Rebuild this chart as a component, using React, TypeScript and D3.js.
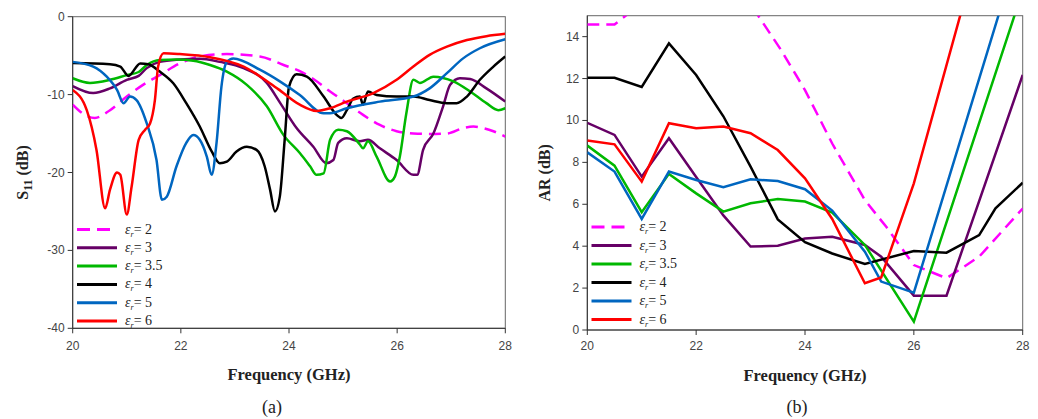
import React from "react";
import * as d3 from "d3";

// ---------- Data: (a) S11 (dB) ----------
const s11X_2 = [20, 20.2, 20.41, 20.69, 21.0, 21.3, 21.61, 21.98, 22.35, 22.85, 23.46, 23.9, 24.2, 24.45, 24.76, 25.07, 25.37, 25.68, 25.99, 26.3, 26.6, 26.92, 27.22, 27.41, 27.59, 27.78, 28];
const s11Y_2 = [-11.3, -12.5, -13.0, -12.0, -10.25, -8.75, -7.5, -6.0, -5.1, -4.8, -5.1, -6.2, -7.0, -8.0, -9.6, -11.1, -12.6, -13.9, -14.7, -15.0, -15.05, -15.0, -14.3, -14.1, -14.3, -14.7, -15.4];

const s11X_3 = [20, 20.38, 20.69, 21.0, 21.22, 21.37, 21.61, 21.98, 22.35, 22.72, 23.16, 23.59, 23.83, 24.14, 24.45, 24.69, 24.82, 24.91, 25.07, 25.31, 25.46, 25.68, 25.99, 26.3, 26.37, 26.48, 26.67, 26.85, 26.98, 27.16, 27.35, 27.65, 28];
const s11Y_3 = [-8.9, -9.8, -9.2, -8.1, -7.6, -6.6, -5.8, -5.5, -5.4, -5.8, -6.6, -8.5, -11.0, -14.3, -16.7, -18.8, -18.4, -16.2, -15.6, -16.0, -15.8, -16.9, -18.4, -20.3, -20.3, -17.1, -15.0, -11.5, -8.75, -7.9, -8.0, -9.2, -10.9];

const s11X_35 = [20, 20.32, 20.69, 21.0, 21.22, 21.37, 21.61, 21.92, 22.23, 22.54, 22.85, 23.22, 23.59, 23.9, 24.2, 24.39, 24.51, 24.64, 24.76, 24.91, 25.07, 25.31, 25.37, 25.46, 25.62, 25.87, 25.96, 26.05, 26.17, 26.3, 26.42, 26.67, 27.04, 27.35, 27.65, 27.87, 28];
const s11Y_35 = [-7.9, -8.5, -8.1, -7.5, -7.1, -6.2, -5.55, -5.5, -5.65, -6.2, -7.05, -8.75, -11.5, -15.2, -17.5, -19.2, -20.3, -20.1, -15.8, -14.5, -14.7, -16.4, -16.9, -16.0, -17.95, -21.15, -20.5, -17.95, -12.4, -8.1, -8.5, -7.7, -8.3, -9.6, -11.1, -12.0, -11.75];

const s11X_4 = [20, 20.69, 20.88, 21.03, 21.25, 21.4, 21.61, 21.86, 22.1, 22.35, 22.57, 22.72, 22.85, 23.03, 23.22, 23.4, 23.55, 23.65, 23.74, 23.83, 23.92, 24.0, 24.14, 24.33, 24.64, 24.88, 24.97, 25.07, 25.19, 25.31, 25.37, 25.46, 25.62, 25.99, 26.3, 26.6, 26.92, 27.1, 27.29, 27.53, 27.78, 28];
const s11Y_4 = [-5.95, -6.1, -6.4, -7.6, -6.0, -6.1, -7.05, -8.55, -11.1, -14.1, -17.3, -18.8, -18.6, -17.3, -16.7, -17.1, -19.2, -22.2, -25.0, -23.1, -15.8, -9.0, -7.4, -7.7, -10.25, -12.6, -13.0, -12.0, -10.5, -10.25, -11.3, -9.6, -10.05, -10.25, -10.25, -10.7, -11.1, -11.1, -10.25, -8.1, -6.4, -5.1];

const s11X_5 = [20, 20.38, 20.63, 20.82, 20.94, 21.06, 21.18, 21.37, 21.55, 21.65, 21.74, 21.92, 22.1, 22.23, 22.35, 22.48, 22.57, 22.66, 22.75, 22.85, 22.97, 23.46, 23.83, 24.2, 24.64, 24.76, 25.07, 25.68, 26.3, 26.6, 26.92, 27.22, 27.53, 28];
const s11Y_5 = [-5.8, -6.4, -7.7, -9.4, -11.1, -10.25, -10.7, -13.7, -18.4, -23.5, -23.1, -19.2, -16.2, -15.2, -15.8, -17.95, -20.3, -16.2, -9.0, -5.8, -5.35, -6.8, -8.3, -10.05, -12.4, -12.4, -11.75, -10.9, -10.25, -9.2, -7.25, -5.35, -4.05, -2.9];

const s11X_6 = [20, 20.26, 20.44, 20.6, 20.69, 20.82, 20.88, 21.0, 21.09, 21.22, 21.34, 21.43, 21.52, 21.58, 21.68, 21.98, 22.54, 23.16, 23.8, 24.2, 24.51, 24.76, 25.07, 25.56, 25.99, 26.3, 26.6, 26.92, 27.29, 27.65, 28];
const s11Y_6 = [-9.4, -12.0, -17.1, -24.6, -22.2, -20.0, -20.3, -25.4, -21.8, -15.8, -14.5, -13.7, -10.7, -6.4, -4.7, -4.8, -5.2, -6.4, -9.3, -11.3, -12.1, -11.75, -10.9, -9.8, -8.1, -6.4, -4.9, -3.85, -3.0, -2.5, -2.2];

// ---------- Data: (b) AR (dB) ----------
const arX_2 = [20, 20.5, 21, 22, 23, 23.55, 24, 24.5, 25.1, 25.5, 26, 26.6, 27.2, 28];
const arY_2 = [14.58, 14.58, 15.6, 17, 15.55, 13.4, 11.45, 8.9, 6.2, 4.9, 3.1, 2.47, 3.5, 5.8];

const arX_3 = [20, 20.5, 21, 21.5, 22, 22.5, 23, 23.5, 24, 24.5, 25.1, 25.4, 26, 26.6, 28];
const arY_3 = [9.89, 9.31, 7.32, 9.15, 7.3, 5.47, 3.98, 4.02, 4.37, 4.45, 4.06, 3.5, 1.64, 1.64, 12.17];

const arX_35 = [20, 20.5, 21, 21.5, 22, 22.5, 23, 23.5, 24, 24.5, 25.1, 26, 28];
const arY_35 = [8.8, 7.84, 5.62, 7.45, 6.52, 5.65, 6.05, 6.25, 6.13, 5.6, 4.06, 0.4, 16.2];

const arX_4 = [20, 20.5, 21, 21.5, 22, 22.5, 23, 23.5, 24, 24.5, 25.1, 26, 26.6, 27.2, 27.5, 28];
const arY_4 = [12.04, 12.04, 11.6, 13.68, 12.17, 10.2, 7.8, 5.28, 4.19, 3.65, 3.15, 3.77, 3.69, 4.53, 5.81, 7.03];

const arX_5 = [20, 20.5, 21, 21.5, 22, 22.5, 23, 23.5, 24, 24.5, 25.1, 25.4, 26, 28];
const arY_5 = [8.48, 7.56, 5.3, 7.56, 7.16, 6.81, 7.19, 7.11, 6.72, 5.7, 3.74, 2.31, 1.78, 18.8];

const arX_6 = [20, 20.5, 21, 21.5, 22, 22.5, 23, 23.5, 24, 24.5, 25.1, 25.4, 26, 28];
const arY_6 = [9.04, 8.86, 7.08, 9.87, 9.63, 9.71, 9.39, 8.59, 7.24, 5.3, 2.23, 2.51, 7.0, 25.8];

// ---------- Labels / ticks ----------
const legendLabels = ["2", "3", "3.5", "4", "5", "6"];
const seriesColors = ["#FF00FF", "#660066", "#00B800", "#000000", "#0066C0", "#FF0000"];
const freqTicks = [20, 22, 24, 26, 28];
const s11Ticks = [0, -10, -20, -30, -40];
const arTicks = [0, 2, 4, 6, 8, 10, 12, 14];

const s11Series = [
  [s11X_2, s11Y_2], [s11X_3, s11Y_3], [s11X_35, s11Y_35],
  [s11X_4, s11Y_4], [s11X_5, s11Y_5], [s11X_6, s11Y_6],
];
const arSeries = [
  [arX_2, arY_2], [arX_3, arY_3], [arX_35, arY_35],
  [arX_4, arY_4], [arX_5, arY_5], [arX_6, arY_6],
];

const SERIF = "Liberation Serif, Times New Roman, Times, DejaVu Serif, serif";
const SANS = "Liberation Sans, Arial, sans-serif";

function zip(xs: number[], ys: number[]): [number, number][] {
  return xs.map((x, i) => [x, ys[i]]);
}

function Legend({ x0, y0, step }: { x0: number; y0: number; step: number }) {
  return (
    <g>
      {legendLabels.map((lab, i) => {
        const y = y0 + i * step;
        return (
          <g key={lab}>
            <line x1={x0} x2={x0 + 40} y1={y} y2={y} stroke={seriesColors[i]} strokeWidth={3}
              strokeDasharray={i === 0 ? "13,7" : undefined} />
            <text x={x0 + 48} y={y + 4} style={{ fontFamily: SERIF }} fontSize={14} fill="#222">
              <tspan fontStyle="italic">ε</tspan>
              <tspan fontStyle="italic" fontSize={8} dy={3}>r</tspan>
              <tspan dy={-3}>= {lab}</tspan>
            </text>
          </g>
        );
      })}
    </g>
  );
}

export default function App() {
  // panel (a)
  const xa = d3.scaleLinear().domain([20, 28]).range([72.7, 505.3]);
  const ya = d3.scaleLinear().domain([-40, 0]).range([328.3, 16.7]);
  const lineA = d3.line<[number, number]>().x(d => xa(d[0])).y(d => ya(d[1])).curve(d3.curveMonotoneX);

  // panel (b)
  const xb = d3.scaleLinear().domain([20, 28]).range([587.3, 1022.7]);
  const yb = d3.scaleLinear().domain([0, 15]).range([330, 15.7]);
  const lineB = d3.line<[number, number]>().x(d => xb(d[0])).y(d => yb(d[1])).curve(d3.curveLinear);

  const [ax0, ax1] = xa.range();
  const [ay0, ay1] = [ya(-40), ya(0)];
  const [bx0, bx1] = xb.range();
  const [by0, by1] = [yb(0), yb(15)];

  const titleStyle = { fontFamily: SERIF, fontWeight: 700 as const };

  return (
    <svg width={1038} height={419} style={{ position: "absolute", left: 0, top: 0, background: "#fff" }}>
      <defs>
        <clipPath id="clipA"><rect x={ax0} y={ay1} width={ax1 - ax0} height={ay0 - ay1} /></clipPath>
        <clipPath id="clipB"><rect x={bx0} y={by1} width={bx1 - bx0} height={by0 - by1} /></clipPath>
      </defs>
      <rect x={0} y={0} width={1038} height={419} fill="#fff" />

      {/* ===== Panel (a) ===== */}
      <rect x={ax0} y={ay1} width={ax1 - ax0} height={ay0 - ay1} fill="none" stroke="#666" strokeWidth={1} />
      <line x1={ax0} x2={ax0} y1={ay1} y2={ay0} stroke="#333" />
      <line x1={ax0} x2={ax1} y1={ay0} y2={ay0} stroke="#333" />
      {s11Ticks.map(t => (
        <g key={t}>
          <line x1={ax0 - 5} x2={ax0} y1={ya(t)} y2={ya(t)} stroke="#333" />
          <text x={ax0 - 8} y={ya(t) + 4} textAnchor="end" style={{ fontFamily: SANS }} fontSize={12} fill="#444">{t}</text>
        </g>
      ))}
      {freqTicks.map(t => (
        <g key={t}>
          <line x1={xa(t)} x2={xa(t)} y1={ay0} y2={ay0 + 5} stroke="#333" />
          <text x={xa(t)} y={ay0 + 22} textAnchor="middle" style={{ fontFamily: SANS }} fontSize={12} fill="#444">{t}</text>
        </g>
      ))}
      <g clipPath="url(#clipA)" fill="none" strokeLinejoin="round">
        {s11Series.map(([xs, ys], i) => (
          <path key={i} d={lineA(zip(xs, ys)) || ""} stroke={seriesColors[i]} strokeWidth={2.5}
            strokeDasharray={i === 0 ? "12,7" : undefined} />
        ))}
      </g>
      <Legend x0={77} y0={229.5} step={18.3} />
      <text x={(ax0 + ax1) / 2} y={380} textAnchor="middle" style={titleStyle} fontSize={16.5} fill="#222">Frequency (GHz)</text>
      <text x={272} y={413} textAnchor="middle" style={{ fontFamily: SERIF }} fontSize={18} fill="#222">(a)</text>
      <text transform={`translate(28,${(ay0 + ay1) / 2}) rotate(-90)`} textAnchor="middle" style={titleStyle} fontSize={16} fill="#222">
        S<tspan fontSize={12} dy={4}>11</tspan><tspan dy={-4}> (dB)</tspan>
      </text>

      {/* ===== Panel (b) ===== */}
      <rect x={bx0} y={by1} width={bx1 - bx0} height={by0 - by1} fill="none" stroke="#666" strokeWidth={1} />
      <line x1={bx0} x2={bx0} y1={by1} y2={by0} stroke="#333" />
      <line x1={bx0} x2={bx1} y1={by0} y2={by0} stroke="#333" />
      {arTicks.map(t => (
        <g key={t}>
          <line x1={bx0 - 5} x2={bx0} y1={yb(t)} y2={yb(t)} stroke="#333" />
          <text x={bx0 - 8} y={yb(t) + 4} textAnchor="end" style={{ fontFamily: SANS }} fontSize={12} fill="#444">{t}</text>
        </g>
      ))}
      {freqTicks.map(t => (
        <g key={t}>
          <line x1={xb(t)} x2={xb(t)} y1={by0} y2={by0 + 5} stroke="#333" />
          <text x={xb(t)} y={by0 + 20} textAnchor="middle" style={{ fontFamily: SANS }} fontSize={12} fill="#444">{t}</text>
        </g>
      ))}
      <g clipPath="url(#clipB)" fill="none" strokeLinejoin="miter">
        {arSeries.map(([xs, ys], i) => (
          <path key={i} d={lineB(zip(xs, ys)) || ""} stroke={seriesColors[i]} strokeWidth={2.5}
            strokeDasharray={i === 0 ? "12,7" : undefined} />
        ))}
      </g>
      <Legend x0={591.5} y0={227} step={18.5} />
      <text x={(bx0 + bx1) / 2} y={381} textAnchor="middle" style={titleStyle} fontSize={16.5} fill="#222">Frequency (GHz)</text>
      <text x={797} y={413} textAnchor="middle" style={{ fontFamily: SERIF }} fontSize={18} fill="#222">(b)</text>
      <text transform={`translate(550,${(by0 + by1) / 2}) rotate(-90)`} textAnchor="middle" style={titleStyle} fontSize={16} fill="#222">AR (dB)</text>
    </svg>
  );
}
